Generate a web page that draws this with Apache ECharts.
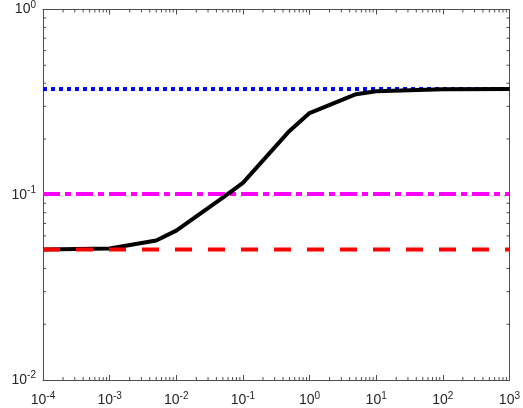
<!DOCTYPE html>
<html>
<head>
<meta charset="utf-8">
<script src="https://cdn.jsdelivr.net/npm/echarts@6/dist/echarts.min.js"></script>
<style>
  html, body { margin: 0; padding: 0; background: #fff; }
  #main { width: 523px; height: 408px; }
</style>
</head>
<body>
<div id="main"></div>
<script>
// data
var xVals = [1e-4, 1e-3, 5e-3, 1e-2, 5e-2, 1e-1, 5e-1, 1, 5, 10, 100, 1000];
var curveVals = [0.0506, 0.0513, 0.0566, 0.064, 0.0964, 0.116, 0.221, 0.276, 0.349, 0.362, 0.371, 0.372];
var redLevel = 0.0506;
var magentaLevel = 0.101;
var blueLevel = 0.372;
var xRange = [1e-4, 1e3];
var yRange = [1e-2, 1e0];

// minor tick values (2..9 per decade)
function minorTicks(lo, hi) {
    var out = [];
    for (var d = Math.round(Math.log10(lo)); d < Math.round(Math.log10(hi)); d++) {
        for (var k = 2; k <= 9; k++) out.push([k * Math.pow(10, d)]);
    }
    return out;
}
var xMinor = minorTicks(xRange[0], xRange[1]);
var yMinor = minorTicks(yRange[0], yRange[1]);

var chart = echarts.init(document.getElementById('main'));

var axisColor = '#4d4d4d';
function expLabel(v) {
    var e = Math.round(Math.log10(v));
    return '{b|10}{s|' + e + '}';
}
var labelRich = {
    b: { fontSize: 14, fontFamily: 'Liberation Sans', color: '#262626' },
    s: { fontSize: 10, fontFamily: 'Liberation Sans', color: '#262626', padding: [0, 0, 9, 0] }
};

function hLine(v) {
    return [[xRange[0], v], [xRange[1], v]];
}

var option = {
    animation: false,
    grid: { left: 43, right: 10, top: 8, bottom: 28, containLabel: false },
    xAxis: [{
        type: 'log', logBase: 10, min: xRange[0], max: xRange[1],
        axisLine: { show: true, lineStyle: { color: axisColor, width: 1 } },
        axisTick: { show: true, inside: true, length: 5, lineStyle: { color: axisColor } },
        splitLine: { show: false },
        axisLabel: { formatter: expLabel, rich: labelRich, margin: 11 }
    }, {
        type: 'log', logBase: 10, min: xRange[0], max: xRange[1], position: 'top',
        axisLine: { show: true, onZero: false, lineStyle: { color: axisColor, width: 1 } },
        axisTick: { show: true, inside: true, length: 5, lineStyle: { color: axisColor } },
        splitLine: { show: false },
        axisLabel: { show: false }
    }],
    yAxis: [{
        type: 'log', logBase: 10, min: yRange[0], max: yRange[1],
        axisLine: { show: true, lineStyle: { color: axisColor, width: 1 } },
        axisTick: { show: true, inside: true, length: 5, lineStyle: { color: axisColor } },
        splitLine: { show: false },
        axisLabel: { formatter: expLabel, rich: labelRich, margin: 7 }
    }, {
        type: 'log', logBase: 10, min: yRange[0], max: yRange[1], position: 'right',
        axisLine: { show: true, onZero: false, lineStyle: { color: axisColor, width: 1 } },
        axisTick: { show: true, inside: true, length: 5, lineStyle: { color: axisColor } },
        splitLine: { show: false },
        axisLabel: { show: false }
    }],
    series: [
        {
            type: 'custom', xAxisIndex: 0, yAxisIndex: 0, data: xMinor, silent: true,
            renderItem: function (params, api) {
                var b = api.coord([api.value(0), yRange[0]]);
                var t = api.coord([api.value(0), yRange[1]]);
                return { type: 'group', children: [
                    { type: 'line', shape: { x1: b[0], y1: b[1], x2: b[0], y2: b[1] - 3 }, style: { stroke: axisColor, lineWidth: 1 } },
                    { type: 'line', shape: { x1: t[0], y1: t[1], x2: t[0], y2: t[1] + 3 }, style: { stroke: axisColor, lineWidth: 1 } }
                ] };
            }
        },
        {
            type: 'custom', xAxisIndex: 0, yAxisIndex: 0, data: yMinor, silent: true,
            encode: { y: 0 },
            renderItem: function (params, api) {
                var l = api.coord([xRange[0], api.value(0)]);
                var r = api.coord([xRange[1], api.value(0)]);
                return { type: 'group', children: [
                    { type: 'line', shape: { x1: l[0], y1: l[1], x2: l[0] + 3, y2: l[1] }, style: { stroke: axisColor, lineWidth: 1 } },
                    { type: 'line', shape: { x1: r[0], y1: r[1], x2: r[0] - 3, y2: r[1] }, style: { stroke: axisColor, lineWidth: 1 } }
                ] };
            }
        },
        {
            name: 'blue', type: 'line', data: hLine(blueLevel), symbol: 'none',
            lineStyle: { color: '#0000ff', width: 4, type: [4, 4], cap: 'butt' }
        },
        {
            name: 'magenta', type: 'line', data: hLine(magentaLevel), symbol: 'none',
            lineStyle: { color: '#ff00ff', width: 4, type: [17, 5, 6, 5], cap: 'butt' }
        },
        {
            name: 'curve', type: 'line', symbol: 'none',
            data: xVals.map(function (x, i) { return [x, curveVals[i]]; }),
            lineStyle: { color: '#000000', width: 4 }
        },
        {
            name: 'red', type: 'line', data: hLine(redLevel), symbol: 'none',
            lineStyle: { color: '#ff0000', width: 4, type: [17, 16], cap: 'butt' }
        }
    ]
};

chart.setOption(option);
</script>
</body>
</html>
